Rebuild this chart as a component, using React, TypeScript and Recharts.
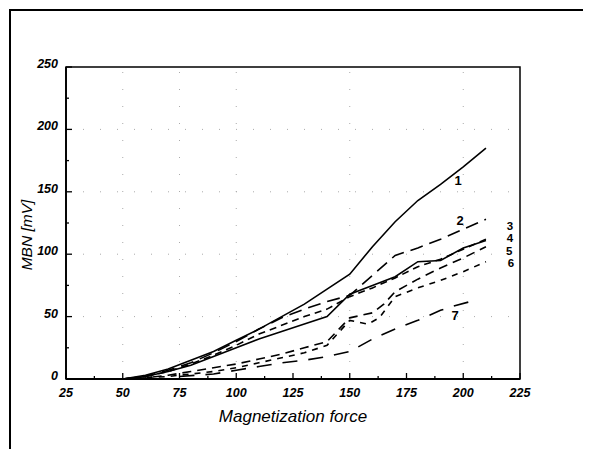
import { LineChart, Line, XAxis, YAxis, ReferenceArea, ReferenceLine, ReferenceDot } from "recharts";

// magnetization force (x) and MBN [mV] (y) per sample curve
const force1 = [50, 60, 70, 80, 90, 100, 110, 120, 130, 140, 150, 160, 170, 180, 190, 200, 210];
const mbn1 = [0, 3, 8, 15, 22, 31, 40, 50, 60, 72, 84, 106, 126, 143, 156, 170, 185];

const force2 = [50, 60, 70, 80, 90, 100, 110, 120, 130, 140, 150, 160, 170, 180, 190, 200, 210];
const mbn2 = [0, 2, 7, 13, 21, 30, 40, 49, 56, 62, 67, 83, 99, 105, 112, 120, 128];

const force3 = [50, 60, 70, 80, 90, 100, 110, 120, 130, 140, 150, 160, 170, 180, 190, 200, 210];
const mbn3 = [0, 2, 6, 12, 19, 27, 36, 43, 50, 56, 66, 73, 81, 90, 96, 104, 112];

const force4 = [50, 60, 70, 80, 90, 100, 110, 120, 130, 140, 150, 160, 170, 180, 190, 200, 210];
const mbn4 = [0, 2, 6, 11, 18, 25, 32, 38, 44, 50, 68, 75, 82, 94, 95, 105, 111];

const force5 = [50, 60, 70, 80, 90, 100, 110, 120, 130, 140, 150, 155, 160, 165, 170, 180, 190, 200, 210];
const mbn5 = [0, 1, 3, 6, 9, 12, 16, 20, 25, 30, 49, 51, 53, 60, 70, 80, 89, 97, 106];

const force6 = [50, 60, 70, 80, 90, 100, 110, 120, 130, 140, 150, 158, 163, 170, 180, 190, 200, 210];
const mbn6 = [0, 1, 2, 4, 6, 9, 13, 17, 21, 27, 47, 44, 49, 66, 73, 79, 86, 94];

const force7 = [75, 90, 100, 110, 120, 130, 140, 150, 160, 170, 180, 190, 195, 205];
const mbn7 = [2, 4, 7, 10, 13, 15, 18, 22, 32, 40, 47, 55, 58, 63];

const xTicks = [25, 37.5, 50, 62.5, 75, 87.5, 100, 112.5, 125, 137.5, 150, 162.5, 175, 187.5, 200, 212.5, 225];
const yTicks = [0, 25, 50, 75, 100, 125, 150, 175, 200, 225, 250];
const gridX = [50, 75, 100, 150, 200];
const gridY = [50, 100, 150, 200];

const curveNames = ["1", "2", "3", "4", "5", "6", "7"];
const labelForce = [197.7, 198.6, 220.6, 220.6, 220.2, 221, 196.4];
const labelMbn = [159.5, 127.4, 122.8, 112.8, 102.8, 92.8, 51.3];

const toPoints = (xs: number[], ys: number[]) => xs.map((x, i) => ({ x, y: ys[i] }));

const curves = [
  { data: toPoints(force1, mbn1), dash: undefined },
  { data: toPoints(force2, mbn2), dash: "13 7" },
  { data: toPoints(force3, mbn3), dash: "7 5" },
  { data: toPoints(force4, mbn4), dash: undefined },
  { data: toPoints(force5, mbn5), dash: "9 6" },
  { data: toPoints(force6, mbn6), dash: "6 6" },
  { data: toPoints(force7, mbn7), dash: "15 11" },
];

const FONT = "'Liberation Sans', Arial, sans-serif";

function XTick({ x, y, payload }: any) {
  const major = payload.value % 25 === 0;
  return (
    <g>
      <line x1={x} x2={x} y1={y} y2={y - (major ? 6 : 3)} stroke="#000" strokeWidth={1.3} />
      {major && (
        <text x={x} y={y + 14} textAnchor="middle" dominantBaseline="central"
          fontFamily={FONT} fontStyle="italic" fontWeight="bold" fontSize={12.5} fill="#000">
          {payload.value}
        </text>
      )}
    </g>
  );
}

function YTick({ x, y, payload }: any) {
  const major = payload.value % 50 === 0;
  return (
    <g>
      <line x1={x} x2={x + (major ? 6 : 3)} y1={y} y2={y} stroke="#000" strokeWidth={1.3} />
      {major && (
        <text x={x - 8} y={y - 3} textAnchor="end" dominantBaseline="central"
          fontFamily={FONT} fontStyle="italic" fontWeight="bold" fontSize={12.5} fill="#000">
          {payload.value}
        </text>
      )}
    </g>
  );
}

export default function App() {
  return (
    <div style={{ position: "relative", width: 583, height: 441, overflow: "hidden", fontFamily: FONT }}>
      {/* outer figure frame */}
      <div style={{ position: "absolute", left: 1, top: 1, width: 700, height: 600, borderLeft: "2.5px solid #000", borderTop: "2.5px solid #000" }} />
      <LineChart width={575} height={433} margin={{ top: 59, right: 63, bottom: 32, left: 18 }}
        style={{ position: "absolute", left: 0, top: 0 }}>
        <XAxis type="number" dataKey="x" domain={[25, 225]} ticks={xTicks} interval={0}
          tickSize={0} tickMargin={0} tick={<XTick />} tickLine={false} height={30}
          axisLine={{ stroke: "#000", strokeWidth: 1.8 }} allowDataOverflow />
        <YAxis type="number" domain={[0, 250]} ticks={yTicks} interval={0}
          tickSize={0} tickMargin={0} tick={<YTick />} tickLine={false} width={40}
          axisLine={{ stroke: "#000", strokeWidth: 1.8 }} />
        {gridX.map((v) => (
          <ReferenceLine key={"gx" + v} x={v} stroke="#aaa" strokeDasharray="1 16" />
        ))}
        {gridY.map((v) => (
          <ReferenceLine key={"gy" + v} y={v} stroke="#aaa" strokeDasharray="1 16" />
        ))}
        <ReferenceArea x1={25} x2={225} y1={0} y2={250} fill="none" stroke="#000" strokeWidth={1.5} />
        {curves.map((c, i) => (
          <Line key={i} data={c.data} dataKey="y" type="linear" stroke="#000" strokeWidth={1.6}
            strokeDasharray={c.dash} dot={false} activeDot={false} isAnimationActive={false} />
        ))}
        {curveNames.map((n, i) => (
          <ReferenceDot key={"l" + n} x={labelForce[i]} y={labelMbn[i]} r={0} ifOverflow="visible"
            fill="none" stroke="none"
            label={{ value: n, position: "center", fill: "#000", fontSize: i >= 2 && i <= 5 ? 11.5 : 13, fontWeight: "bold", fontFamily: FONT }} />
        ))}
      </LineChart>
      <div style={{ position: "absolute", left: 175, top: 399, width: 220, height: 20, lineHeight: "20px", textAlign: "center", fontSize: 17, fontStyle: "italic" }}>
        Magnetization force
      </div>
      <div style={{ position: "absolute", left: -41, top: 217, width: 120, height: 20, lineHeight: "20px", textAlign: "center", fontSize: 15.5, fontStyle: "italic", transform: "rotate(-90deg)" }}>
        MBN [mV]
      </div>
    </div>
  );
}
